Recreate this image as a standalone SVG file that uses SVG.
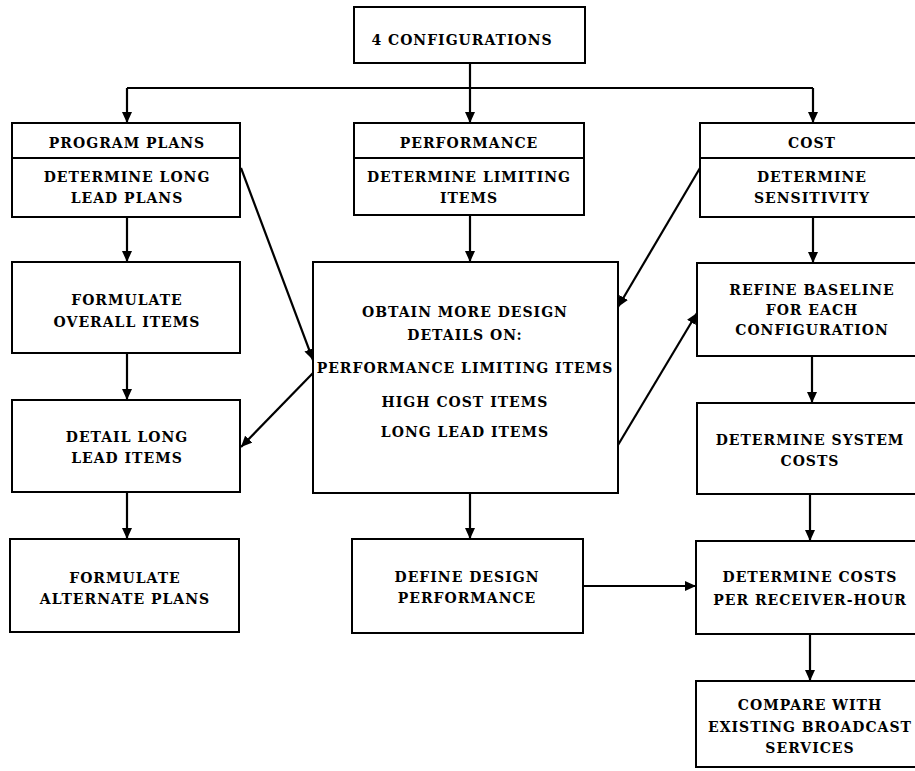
<svg xmlns="http://www.w3.org/2000/svg" width="915" height="771" viewBox="0 0 915 771">
<defs>
<marker id="ah" markerUnits="userSpaceOnUse" markerWidth="12" markerHeight="10" refX="11" refY="5" orient="auto">
<path d="M0,0 L11,5 L0,10 z" fill="#000"/>
</marker>
<style>
rect{fill:#fff;stroke:#000;stroke-width:2}
.d{stroke:#000;stroke-width:2}
text{font-family:"DejaVu Serif","Liberation Serif",serif;font-size:14px;font-weight:bold;letter-spacing:1px;text-anchor:middle;fill:#000}
.c line{stroke:#000;stroke-width:2.2;fill:none;marker-end:url(#ah)}
.c .p{marker-end:none}
</style>
</defs>
<rect x="0" y="0" width="915" height="771" style="fill:#fff;stroke:none"/>
<g id="n_config"><rect x="354" y="7" width="231" height="56"/><text x="462" y="45">4 CONFIGURATIONS</text></g>
<g id="n_program"><rect x="12" y="123" width="228" height="94"/><line class="d" x1="12" y1="158" x2="240" y2="158"/>
<text x="127" y="148">PROGRAM PLANS</text><text x="127" y="182">DETERMINE LONG</text><text x="127" y="203">LEAD PLANS</text></g>
<g id="n_performance"><rect x="354" y="123" width="230" height="92"/><line class="d" x1="354" y1="158" x2="584" y2="158"/>
<text x="469" y="148">PERFORMANCE</text><text x="469" y="182">DETERMINE LIMITING</text><text x="469" y="203">ITEMS</text></g>
<g id="n_cost"><rect x="700" y="123" width="232" height="94"/><line class="d" x1="700" y1="158" x2="932" y2="158"/>
<text x="812" y="148">COST</text><text x="812" y="182">DETERMINE</text><text x="812" y="203">SENSITIVITY</text></g>
<g id="n_formulate_overall"><rect x="12" y="262" width="228" height="91"/><text x="127" y="305">FORMULATE</text><text x="127" y="327">OVERALL ITEMS</text></g>
<g id="n_obtain"><rect x="313" y="262" width="305" height="231"/>
<text x="465" y="317">OBTAIN MORE DESIGN</text><text x="465" y="340">DETAILS ON:</text><text x="465" y="373">PERFORMANCE LIMITING ITEMS</text><text x="465" y="407">HIGH COST ITEMS</text><text x="465" y="437">LONG LEAD ITEMS</text></g>
<g id="n_refine"><rect x="697" y="263" width="235" height="93"/><text x="812" y="295">REFINE BASELINE</text><text x="812" y="315">FOR EACH</text><text x="812" y="335">CONFIGURATION</text></g>
<g id="n_detail"><rect x="12" y="400" width="228" height="92"/><text x="127" y="442">DETAIL LONG</text><text x="127" y="463">LEAD ITEMS</text></g>
<g id="n_system"><rect x="697" y="403" width="235" height="91"/><text x="810" y="445">DETERMINE SYSTEM</text><text x="810" y="466">COSTS</text></g>
<g id="n_alternate"><rect x="10" y="539" width="229" height="93"/><text x="125" y="583">FORMULATE</text><text x="125" y="604">ALTERNATE PLANS</text></g>
<g id="n_define"><rect x="352" y="539" width="231" height="94"/><text x="467" y="582">DEFINE DESIGN</text><text x="467" y="603">PERFORMANCE</text></g>
<g id="n_receiver"><rect x="696" y="541" width="236" height="93"/><text x="810" y="582">DETERMINE COSTS</text><text x="810" y="605">PER RECEIVER-HOUR</text></g>
<g id="n_compare"><rect x="696" y="681" width="236" height="86"/><text x="810" y="710">COMPARE WITH</text><text x="810" y="732">EXISTING BROADCAST</text><text x="810" y="753">SERVICES</text></g>
<g id="connectors" class="c">
<line class="p" x1="470" y1="63" x2="470" y2="88"/>
<line class="p" x1="127" y1="88" x2="813" y2="88"/>
<line x1="127" y1="88" x2="127" y2="123"/>
<line x1="470" y1="88" x2="470" y2="123"/>
<line x1="813" y1="88" x2="813" y2="123"/>
<line x1="127" y1="217" x2="127" y2="262"/>
<line x1="127" y1="353" x2="127" y2="400"/>
<line x1="127" y1="492" x2="127" y2="539"/>
<line x1="470" y1="215" x2="470" y2="262"/>
<line x1="470" y1="493" x2="470" y2="539"/>
<line x1="813" y1="217" x2="813" y2="263"/>
<line x1="812" y1="356" x2="812" y2="403"/>
<line x1="810" y1="494" x2="810" y2="541"/>
<line x1="810" y1="634" x2="810" y2="681"/>
<line x1="583" y1="586" x2="696" y2="586"/>
<line x1="241" y1="168" x2="313" y2="360"/>
<line x1="700" y1="168" x2="618" y2="307"/>
<line x1="618" y1="445" x2="697" y2="313"/>
<line x1="313" y1="373" x2="241" y2="447"/>
</g>
</svg>
